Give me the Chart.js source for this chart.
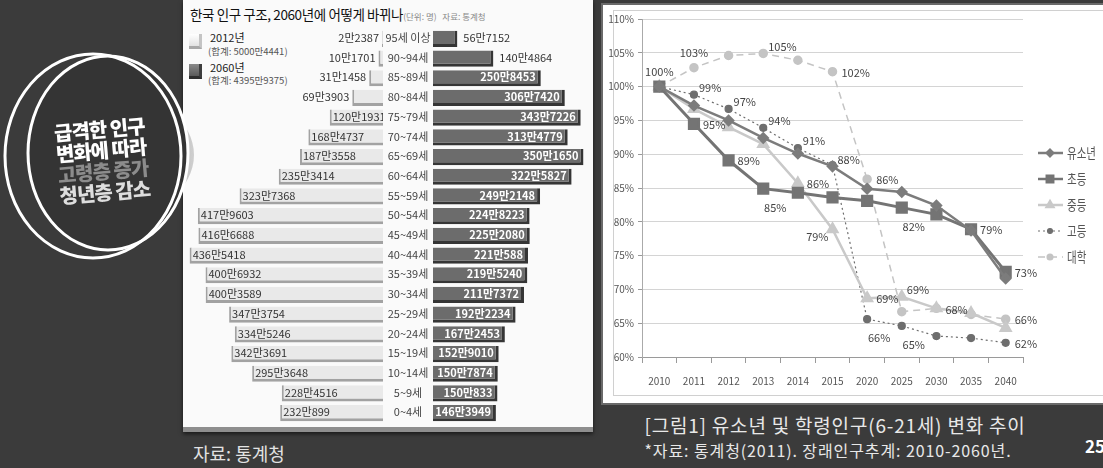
<!DOCTYPE html>
<html>
<head>
<meta charset="utf-8">
<script src="https://cdn.jsdelivr.net/npm/chart.js@4.4.1/dist/chart.umd.min.js"></script>
<style>
  body { margin:0; width:1103px; height:468px; background:#3b3b3b; position:relative; overflow:hidden;
         font-family:"Noto Sans CJK KR","Noto Sans",sans-serif; }
  .abs { position:absolute; }
  #pyrPanel { left:183px; top:0; width:410px; height:427px; background:#fafafa;
              border-bottom:5px solid #8e8e8e; box-shadow:0 2px 4px rgba(0,0,0,0.6); }
  #pyrTitle { left:190px; top:4px; font-size:13.5px; line-height:20px; color:#111; white-space:nowrap; letter-spacing:-0.4px; }
  #pyrTitle span { font-size:8.5px; color:#888; letter-spacing:0; }
  .lgIcon { width:10px; height:12px; }
  .lgName { font-size:11px; line-height:13px; color:#222; white-space:nowrap; }
  .lgSum { font-size:9.5px; line-height:12px; color:#555; white-space:nowrap; }
  #linePanel { left:601px; top:3px; width:520px; height:398px; background:#fff; border:2px solid #6a6a6a; }
  #lineInner { left:613px; top:10px; width:500px; height:384px; border:1px solid #d0d0d0; }
  .caption { white-space:nowrap; color:#e8e8e8; transform:translateX(-50%); }
  #badgeText { left:102px; top:160px; transform:translate(-50%,-50%) rotate(-5deg); text-align:center;
               font-size:20px; line-height:21px; font-weight:900; letter-spacing:-1px; white-space:nowrap; }
</style>
</head>
<body>

<div id="pyrPanel" class="abs"></div>
<div id="pyrTitle" class="abs">한국 인구 구조, 2060년에 어떻게 바뀌나<span>(단위: 명)&nbsp;&nbsp; 자료: 통계청</span></div>

<div class="abs lgIcon" style="left:189px;top:34px;background:linear-gradient(#fff,#e2e2e2);border-right:3px solid #c4c4c4;border-bottom:3px solid #a8a8a8;"></div>
<div class="abs lgName" style="left:210px;top:31px;">2012년</div>
<div class="abs lgSum" style="left:208px;top:45px;">(합계: 5000만4441)</div>
<div class="abs lgIcon" style="left:189px;top:64px;background:linear-gradient(#8a8a8a,#5a5a5a);border-right:3px solid #3e3e3e;border-bottom:3px solid #2e2e2e;"></div>
<div class="abs lgName" style="left:210px;top:61px;">2060년</div>
<div class="abs lgSum" style="left:208px;top:74px;">(합계: 4395만9375)</div>

<canvas id="leftChart" class="abs" width="200" height="394" style="left:183px;top:29px;"></canvas>
<canvas id="rightChart" class="abs" width="209" height="394" style="left:383px;top:29px;"></canvas>

<svg class="abs" width="210" height="280" style="left:0;top:0;">
  <defs>
    <linearGradient id="crescent" x1="0" y1="0" x2="1" y2="0">
      <stop offset="0.6" stop-color="#8a8a8a"/>
      <stop offset="1" stop-color="#cfcfcf"/>
    </linearGradient>
  </defs>
  <ellipse cx="114" cy="155" rx="80" ry="62" fill="url(#crescent)"/>
  <ellipse cx="108" cy="153" rx="80" ry="97" fill="#343434"/>
  <ellipse cx="93" cy="156" rx="88" ry="102" fill="none" stroke="#fff" stroke-width="3"/>
  <ellipse cx="108" cy="153" rx="80" ry="97" fill="none" stroke="#fff" stroke-width="3"/>
</svg>
<div id="badgeText" class="abs">
  <div style="color:#fff">급격한 인구</div>
  <div style="color:#fff">변화에 따라</div>
  <div style="color:#8c8c8c">고령층 증가</div>
  <div style="color:#dedede">청년층 감소</div>
</div>

<div class="abs" style="left:193px;top:443px;font-size:18px;line-height:20px;color:#e2e2e2;">자료: 통계청</div>

<div id="linePanel" class="abs"></div>
<div id="lineInner" class="abs"></div>
<canvas id="lineChart" class="abs" width="500" height="395" style="left:603px;top:5px;"></canvas>

<div class="abs caption" style="left:835px;top:415px;font-size:19px;line-height:20px;letter-spacing:0.8px;">[그림1] 유소년 및 학령인구(6-21세) 변화 추이</div>
<div class="abs caption" style="left:828px;top:441px;font-size:16px;line-height:18px;letter-spacing:0.9px;">*자료: 통계청(2011). 장래인구추계: 2010-2060년.</div>
<div class="abs" style="left:1085px;top:436px;font-size:17px;line-height:20px;font-weight:bold;color:#fff;">25</div>

<script>
// population pyramid
const ageGroups = ['95세 이상', '90~94세', '85~89세', '80~84세', '75~79세', '70~74세', '65~69세',
  '60~64세', '55~59세', '50~54세', '45~49세', '40~44세', '35~39세', '30~34세', '25~29세',
  '20~24세', '15~19세', '10~14세', '5~9세', '0~4세'];
const pop2012 = [22387, 101701, 311458, 693903, 1201931, 1684737, 1873558, 2353414, 3237368, 4179603,
  4166688, 4365418, 4006932, 4003589, 3473754, 3345246, 3423691, 2953648, 2284516, 2320899];
const pop2060 = [567152, 1404864, 2508453, 3067420, 3437226, 3134779, 3501650, 3225827, 2492148, 2248223,
  2252080, 2210588, 2195240, 2117372, 1922234, 1672453, 1529010, 1507874, 1500833, 1463949];

// youth / school-age population index (2010 = 100)
const years = ['2010', '2011', '2012', '2013', '2014', '2015', '2020', '2025', '2030', '2035', '2040'];
const youth      = [100, 97.2, 95.0, 92.4, 90.1, 88.2, 84.9, 84.4, 82.4, 78.7, 71.6];
const elementary = [100, 94.5, 89.1, 84.9, 84.3, 83.6, 83.1, 82.1, 81.1, 78.9, 72.6];
const middle     = [100, 96.7, 94.0, 91.5, 85.7, 78.9, 68.7, 68.9, 67.2, 66.5, 64.3];
const high       = [100, 98.8, 96.7, 93.9, 90.9, 88.4, 65.6, 64.6, 63.1, 62.8, 62.1];
const college    = [100, 102.8, 104.6, 104.9, 103.9, 102.2, 86.3, 66.7, 67.2, 66.3, 65.6];

// data labels shown on the line chart
const youthLabels      = [null, null, null, null, null, '88%', null, null, null, null, null];
const elementaryLabels = [null, '95%', '89%', '85%', null, null, null, '82%', null, '79%', '73%'];
const middleLabels     = [null, null, null, null, '86%', '79%', '69%', '69%', '68%', null, null];
const highLabels       = [null, '99%', '97%', '94%', '91%', null, '66%', '65%', null, null, '62%'];
const collegeLabels    = ['100%', '103%', null, '105%', null, '102%', '86%', null, null, null, '66%'];

// where each label sits relative to its point
const youthLabelPos      = ['', '', '', '', '', 'ra', '', '', '', '', ''];
const elementaryLabelPos = ['', 'r', 'r', 'b', '', '', '', 'b', '', 'r', 'r'];
const middleLabelPos     = ['', '', '', '', 'r', 'lb', 'r', 'ra', 'r', '', ''];
const highLabelPos       = ['', 'ra', 'ra', 'ra', 'ra', '', 'b', 'b', '', '', 'r'];
const collegeLabelPos    = ['a', 'a', '', 'ra', '', 'r', 'r', '', '', '', 'r'];

const FONT = '"Noto Sans CJK KR", "Noto Sans", sans-serif';
Chart.defaults.font.family = FONT;

function fmtMan(v) {
    return Math.floor(v / 10000) + '만' + (v % 10000);
}

// labels for the 2012 side
const leftLabels = {
    id: 'leftLabels',
    afterDatasetsDraw(chart) {
        const ctx = chart.ctx;
        const bars = chart.getDatasetMeta(0).data;
        ctx.save();
        ctx.font = '11px ' + FONT;
        ctx.fillStyle = '#333';
        ctx.textBaseline = 'middle';
        bars.forEach((bar, i) => {
            const v = pop2012[i];
            const left = Math.min(bar.x, bar.base);
            if (v > 1000000) {
                ctx.textAlign = 'left';
                ctx.fillText(fmtMan(v), left + 3, bar.y - 1);
            } else {
                ctx.textAlign = 'right';
                ctx.fillText(fmtMan(v), left - 3, bar.y - 1);
            }
        });
        ctx.restore();
    }
};

// age labels in the gap + labels for the 2060 side
const rightLabels = {
    id: 'rightLabels',
    afterDatasetsDraw(chart) {
        const ctx = chart.ctx;
        const bars = chart.getDatasetMeta(0).data;
        ctx.save();
        ctx.textBaseline = 'middle';
        bars.forEach((bar, i) => {
            const v = pop2060[i];
            ctx.font = '11px ' + FONT;
            ctx.fillStyle = '#444';
            ctx.textAlign = 'center';
            ctx.fillText(ageGroups[i], chart.chartArea.left / 2, bar.y - 1);
            if (v > 1450000) {
                ctx.font = 'bold 11px ' + FONT;
                ctx.fillStyle = '#fff';
                ctx.textAlign = 'right';
                ctx.fillText(fmtMan(v), bar.x - 5, bar.y - 1);
            } else {
                ctx.font = '11px ' + FONT;
                ctx.fillStyle = '#333';
                ctx.textAlign = 'left';
                ctx.fillText(fmtMan(v), bar.x + 6, bar.y - 1);
            }
        });
        ctx.restore();
    }
};

new Chart(document.getElementById('leftChart'), {
    type: 'bar',
    data: {
        labels: ageGroups,
        datasets: [{
            data: pop2012,
            backgroundColor: '#e9e9e9',
            borderColor: '#a2a2a2',
            borderWidth: { top: 0, right: 0, bottom: 3, left: 2 },
            borderSkipped: false,
            barPercentage: 0.82,
            categoryPercentage: 1
        }]
    },
    options: {
        indexAxis: 'y',
        responsive: false,
        animation: false,
        layout: { padding: 0 },
        plugins: { legend: { display: false }, tooltip: { enabled: false } },
        scales: {
            x: { reverse: true, min: 0, max: 4515000, display: false },
            y: { display: false }
        }
    },
    plugins: [leftLabels]
});

new Chart(document.getElementById('rightChart'), {
    type: 'bar',
    data: {
        labels: ageGroups,
        datasets: [{
            data: pop2060,
            backgroundColor: '#6c6c6c',
            borderColor: '#353535',
            borderWidth: { top: 0, right: 3, bottom: 3, left: 0 },
            borderSkipped: false,
            barPercentage: 0.82,
            categoryPercentage: 1
        }]
    },
    options: {
        indexAxis: 'y',
        responsive: false,
        animation: false,
        layout: { padding: { left: 50, right: 0, top: 0, bottom: 0 } },
        plugins: { legend: { display: false }, tooltip: { enabled: false } },
        scales: {
            x: { min: 0, max: 3700000, display: false },
            y: { display: false }
        }
    },
    plugins: [rightLabels]
});

// line chart
const seriesLabels = [youthLabels, elementaryLabels, middleLabels, highLabels, collegeLabels];
const seriesLabelPos = [youthLabelPos, elementaryLabelPos, middleLabelPos, highLabelPos, collegeLabelPos];
const labelOffsets = {
    r: [9, 1, 'left'],
    ra: [5, -7, 'left'],
    a: [0, -15, 'center'],
    b: [12, 19, 'center'],
    lb: [-4, 8, 'right']
};

const pointLabels = {
    id: 'pointLabels',
    afterDatasetsDraw(chart) {
        const ctx = chart.ctx;
        ctx.save();
        ctx.font = '11px ' + FONT;
        ctx.fillStyle = '#444';
        ctx.textBaseline = 'middle';
        seriesLabels.forEach((labels, di) => {
            const pts = chart.getDatasetMeta(di).data;
            labels.forEach((txt, i) => {
                if (!txt) return;
                const [dx, dy, align] = labelOffsets[seriesLabelPos[di][i]];
                ctx.textAlign = align;
                ctx.fillText(txt, pts[i].x + dx, pts[i].y + dy);
            });
        });
        ctx.restore();
    }
};

// legend with line + marker, like the excel one
const lineLegend = {
    id: 'lineLegend',
    afterDraw(chart) {
        const ctx = chart.ctx;
        const x0 = chart.chartArea.right + 15;
        chart.data.datasets.forEach((ds, i) => {
            const y = chart.chartArea.top + 134 + i * 26;
            ctx.save();
            ctx.strokeStyle = ds.borderColor;
            ctx.lineWidth = Math.min(ds.borderWidth, 2.5);
            ctx.setLineDash(ds.borderDash || []);
            ctx.beginPath();
            ctx.moveTo(x0, y);
            ctx.lineTo(x0 + 25, y);
            ctx.stroke();
            ctx.setLineDash([]);
            ctx.fillStyle = ds.borderColor;
            ctx.strokeStyle = ds.borderColor;
            Chart.helpers.drawPoint(ctx, {
                pointStyle: ds.pointStyle, radius: ds.pointRadius * 0.7, rotation: 0, borderWidth: 1
            }, x0 + 12, y);
            ctx.font = '14px ' + FONT;
            ctx.fillStyle = '#555';
            ctx.textBaseline = 'middle';
            ctx.translate(x0 + 29, y);
            ctx.scale(0.75, 1);
            ctx.textAlign = 'left';
            ctx.fillText(ds.label, 0, 0);
            ctx.restore();
        });
    }
};

new Chart(document.getElementById('lineChart'), {
    type: 'line',
    data: {
        labels: years,
        datasets: [
            { label: '유소년', data: youth, borderColor: '#7c7c7c', backgroundColor: '#7c7c7c',
              borderWidth: 2.5, pointStyle: 'rectRot', pointRadius: 4.5 },
            { label: '초등', data: elementary, borderColor: '#747474', backgroundColor: '#747474',
              borderWidth: 3, pointStyle: 'rect', pointRadius: 6.5 },
            { label: '중등', data: middle, borderColor: '#c9c9c9', backgroundColor: '#c9c9c9',
              borderWidth: 2.5, pointStyle: 'triangle', pointRadius: 5.5 },
            { label: '고등', data: high, borderColor: '#6e6e6e', backgroundColor: '#6e6e6e',
              borderWidth: 1.2, borderDash: [2, 3], pointStyle: 'circle', pointRadius: 3.5 },
            { label: '대학', data: college, borderColor: '#c4c4c4', backgroundColor: '#c4c4c4',
              borderWidth: 1.5, borderDash: [7, 5], pointStyle: 'circle', pointRadius: 4 }
        ]
    },
    options: {
        responsive: false,
        animation: false,
        layout: { padding: { top: 14, right: 80, left: 0, bottom: 0 } },
        plugins: { legend: { display: false }, tooltip: { enabled: false } },
        elements: { line: { tension: 0 } },
        scales: {
            x: {
                offset: true,
                grid: { offset: true, drawOnChartArea: false, tickLength: 6, color: '#9a9a9a' },
                border: { color: '#9a9a9a' },
                ticks: { color: '#555', font: { size: 10 }, padding: 12, maxRotation: 0, autoSkip: false },
                afterFit(s) { s.height = 43; }
            },
            y: {
                min: 60,
                max: 110,
                ticks: { stepSize: 5, callback: v => v + '%', color: '#555', font: { size: 10 }, padding: 4 },
                grid: { color: '#d4d4d4', tickLength: 4, tickColor: '#999' },
                border: { color: '#aaa' },
                afterFit(s) { s.width = 39; }
            }
        }
    },
    plugins: [pointLabels, lineLegend]
});
</script>
</body>
</html>
